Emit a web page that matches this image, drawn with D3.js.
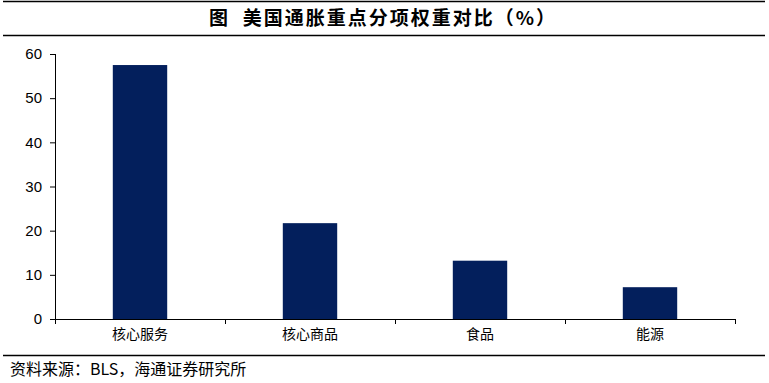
<!DOCTYPE html>
<html>
<head>
<meta charset="utf-8">
<script src="https://cdn.jsdelivr.net/npm/d3@7"></script>
<style>
  body { margin: 0; background: #fff; }
  text { font-family: "Liberation Sans", Arial, sans-serif; }
</style>
</head>
<body>
<div class="chart"></div>
<script>
const categories = ["核心服务", "核心商品", "食品", "能源"];
const weights = [57.5, 21.7, 13.2, 7.2];
const yTicks = [0, 10, 20, 30, 40, 50, 60];

const W = 769, H = 383;
const margin = { top: 54, right: 34, bottom: 64, left: 55 };
const width = W - margin.left - margin.right;
const height = H - margin.top - margin.bottom;

const svg = d3.select(".chart").append("svg")
  .attr("width", W).attr("height", H);

// title block
svg.append("line").attr("x1", 3).attr("x2", 765).attr("y1", 1.5).attr("y2", 1.5)
  .attr("stroke", "#000").attr("stroke-width", 1.5);
svg.append("line").attr("x1", 3).attr("x2", 765).attr("y1", 35.5).attr("y2", 35.5)
  .attr("stroke", "#000").attr("stroke-width", 1.5);
svg.append("text").attr("x", 383).attr("y", 25)
  .attr("text-anchor", "middle")
  .style("white-space", "pre")
  .style("letter-spacing", "2px")
  .style("font-family", "'Noto Sans CJK SC', sans-serif")
  .style("font-size", "19px").style("font-weight", "bold")
  .text("图  美国通胀重点分项权重对比（%）");

const g = svg.append("g").attr("transform", `translate(${margin.left},${margin.top})`);

const x = d3.scaleBand().domain(categories).range([0, width]).paddingInner(0.68).paddingOuter(0.34);
const y = d3.scaleLinear().domain([0, 60]).range([height, 0]);

g.selectAll("rect").data(weights).enter().append("rect")
  .attr("x", (d, i) => x(categories[i]))
  .attr("y", d => y(d))
  .attr("width", x.bandwidth())
  .attr("height", d => height - y(d))
  .attr("fill", "#031f5c");

// y axis
const yAxis = g.append("g").call(d3.axisLeft(y).tickValues(yTicks).tickSize(5).tickPadding(8));
yAxis.selectAll("text").style("font-size", "15px").attr("fill", "#000");
yAxis.selectAll("line, path").attr("stroke", "#000");
yAxis.select(".domain").attr("d", `M0.5,0V${height}`);

// x axis with ticks at category boundaries
const step = width / categories.length;
const xAxis = g.append("g").attr("transform", `translate(0,${height})`);
xAxis.append("line").attr("x1", 0).attr("x2", width).attr("y1", 0.5).attr("y2", 0.5).attr("stroke", "#000");
xAxis.selectAll(".bt").data(d3.range(categories.length + 1)).enter().append("line")
  .attr("x1", i => i * step + 0.5).attr("x2", i => i * step + 0.5)
  .attr("y1", 0).attr("y2", 5).attr("stroke", "#000");
xAxis.selectAll(".cl").data(categories).enter().append("text")
  .attr("x", d => x(d) + x.bandwidth() / 2)
  .attr("y", 20)
  .attr("text-anchor", "middle")
  .style("font-family", "'Noto Sans CJK SC', sans-serif")
  .style("font-size", "14px")
  .text(d => d);

// footer
svg.append("line").attr("x1", 3).attr("x2", 765).attr("y1", 355.5).attr("y2", 355.5)
  .attr("stroke", "#000").attr("stroke-width", 1.5);
svg.append("text").attr("x", 10).attr("y", 375)
  .style("font-family", "'Noto Sans CJK SC', sans-serif")
  .style("font-size", "16px")
  .text("资料来源：BLS，海通证券研究所");
</script>
</body>
</html>
